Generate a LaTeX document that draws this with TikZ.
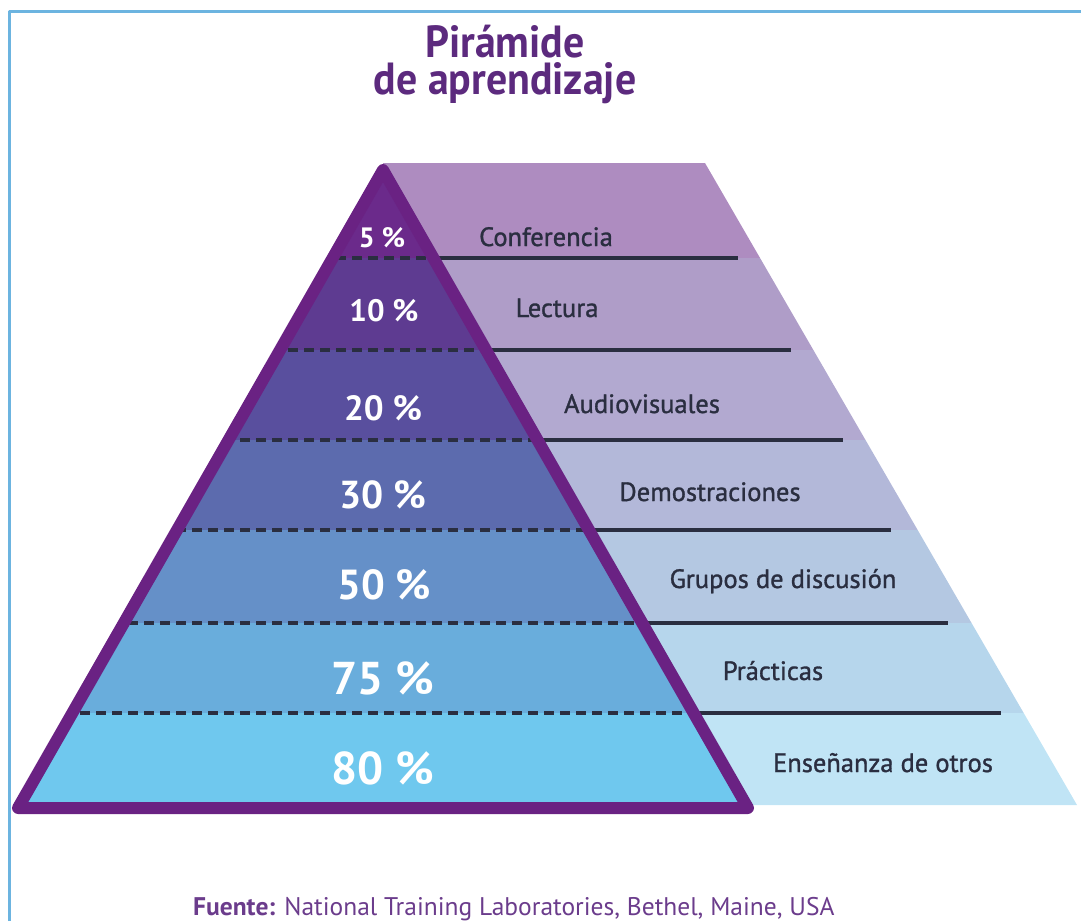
\documentclass[tikz,border=0pt]{standalone}
\usepackage{fontspec}
\setmainfont{PT Sans}
\newfontfamily\labelfont{PT Sans}[FakeBold=1.2]
\newfontfamily\headfont{PT Sans}[FakeStretch=0.93]
\definecolor{framecol}{HTML}{6CB4E0}
\definecolor{titlecol}{HTML}{5C2A7E}
\definecolor{rimcol}{HTML}{6A2283}
\definecolor{inkcol}{HTML}{2A2E40}
\definecolor{notecol}{HTML}{6B3C8C}
\definecolor{pyA}{HTML}{6B2A8B}
\definecolor{pyB}{HTML}{5E3B91}
\definecolor{pyC}{HTML}{594F9E}
\definecolor{pyD}{HTML}{5C6BAE}
\definecolor{pyE}{HTML}{6590C8}
\definecolor{pyF}{HTML}{69ADDC}
\definecolor{pyG}{HTML}{6FC8EE}
\definecolor{shA}{HTML}{AE8CC0}
\definecolor{shB}{HTML}{AF9DC8}
\definecolor{shC}{HTML}{B2A9D0}
\definecolor{shD}{HTML}{B3B8D9}
\definecolor{shE}{HTML}{B4C8E2}
\definecolor{shF}{HTML}{B6D6EC}
\definecolor{shG}{HTML}{C0E4F5}
\begin{document}
\begin{tikzpicture}[x=1pt,y=-1pt,line join=round,
	title/.style={text=titlecol,font=\headfont\bfseries\fontsize{45}{37}\selectfont,inner sep=0pt,align=center},
	pct/.style={text=white,font=\bfseries\fontsize{#1}{#1}\selectfont,inner sep=0pt,anchor=base},
	lbl/.style={text=inkcol,font=\labelfont\fontsize{26.5}{26.5}\selectfont,inner sep=0pt,anchor=base},
	cut/.style={draw=inkcol,line width=4pt,dash pattern=on 10pt off 6pt},
	rule/.style={draw=inkcol,line width=3.5pt},
	rim/.style={draw=rimcol,line width=12pt,line join=round}]
	\useasboundingbox (0,0) rectangle (1081,921);
	\def\yA{258} \def\yB{350} \def\yC{440}
	\def\yD{530} \def\yE{623} \def\yF{713}
	\draw[framecol,line width=3pt] (9,921)--(9,11)--(1081,11);
	\node[title,anchor=north] (head) at (505,25) {Pirámide\\de aprendizaje};
	% right side bands
	\begin{scope}
		\clip (383,163)--(705,163)--(1077,805)--(383,805)--cycle;
		\fill[shA] (383,160) rectangle (1081,\yA);
		\fill[shB] (383,\yA) rectangle (1081,\yB);
		\fill[shC] (383,\yB) rectangle (1081,\yC);
		\fill[shD] (383,\yC) rectangle (1081,\yD);
		\fill[shE] (383,\yD) rectangle (1081,\yE);
		\fill[shF] (383,\yE) rectangle (1081,\yF);
		\fill[shG] (383,\yF) rectangle (1081,810);
	\end{scope}
	\draw[rule] (433,\yA)--(738,\yA);
	\draw[rule] (486,\yB)--(791,\yB);
	\draw[rule] (537,\yC)--(843,\yC);
	\draw[rule] (589,\yD)--(891,\yD);
	\draw[rule] (642,\yE)--(948,\yE);
	\draw[rule] (694,\yF)--(1001,\yF);
	% pyramid
	\begin{scope}
		\clip (383,170)--(748,808)--(18,808)--cycle;
		\fill[pyA] (0,150) rectangle (760,\yA);
		\fill[pyB] (0,\yA) rectangle (760,\yB);
		\fill[pyC] (0,\yB) rectangle (760,\yC);
		\fill[pyD] (0,\yC) rectangle (760,\yD);
		\fill[pyE] (0,\yD) rectangle (760,\yE);
		\fill[pyF] (0,\yE) rectangle (760,\yF);
		\fill[pyG] (0,\yF) rectangle (760,810);
		\draw[cut] (0,\yA)--(760,\yA);
		\draw[cut] (0,\yB)--(760,\yB);
		\draw[cut] (0,\yC)--(760,\yC);
		\draw[cut] (0,\yD)--(760,\yD);
		\draw[cut] (0,\yE)--(760,\yE);
		\draw[cut] (0,\yF)--(760,\yF);
	\end{scope}
	\draw[rim] (383,170)--(748,808)--(18,808)--cycle;
	\node[pct=28] (p5) at (382,247) {5 \%};
	\node[pct=31] (p10) at (384,321) {10 \%};
	\node[pct=35] (p20) at (383,420) {20 \%};
	\node[pct=39] (p30) at (383,508) {30 \%};
	\node[pct=42] (p50) at (384,599) {50 \%};
	\node[pct=46] (p75) at (383,694) {75 \%};
	\node[pct=46] (p80) at (383,784) {80 \%};
	\node[lbl] (conf) at (546,246) {Conferencia};
	\node[lbl] (lect) at (557,317) {Lectura};
	\node[lbl] (audio) at (642,413) {Audiovisuales};
	\node[lbl] (demo) at (710,501) {Demostraciones};
	\node[lbl] (grupos) at (783,588) {Grupos de discusión};
	\node[lbl] (pract) at (773,680) {Prácticas};
	\node[lbl] (ense) at (883,772) {Enseñanza de otros};
	\node[text=notecol,font=\fontsize{25.5}{25.5}\selectfont,inner sep=0pt,anchor=base west] (src) at (193,915) {\textbf{Fuente:} National Training Laboratories, Bethel, Maine, USA};
\end{tikzpicture}
\end{document}
